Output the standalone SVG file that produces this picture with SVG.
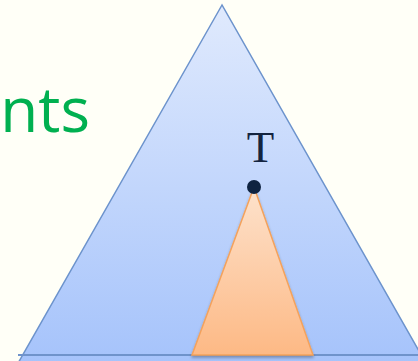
<svg xmlns="http://www.w3.org/2000/svg" width="418" height="361" viewBox="0 0 418 361">
  <defs>
    <linearGradient id="blueG" x1="0" y1="0" x2="0" y2="1">
      <stop offset="0" stop-color="#e0eafd"/>
      <stop offset="1" stop-color="#a4c2fb"/>
    </linearGradient>
    <linearGradient id="orangeG" x1="0" y1="0" x2="0" y2="1">
      <stop offset="0" stop-color="#fde2cc"/>
      <stop offset="1" stop-color="#fdb985"/>
    </linearGradient>
    <filter id="sh" x="-20%" y="-20%" width="140%" height="140%">
      <feGaussianBlur in="SourceAlpha" stdDeviation="1.5"/>
      <feOffset dx="0" dy="2"/>
      <feComponentTransfer><feFuncA type="linear" slope="0.3"/></feComponentTransfer>
      <feMerge><feMergeNode/><feMergeNode in="SourceGraphic"/></feMerge>
    </filter>
  </defs>
  <style>
    .big { fill: url(#blueG); stroke: #6c93cc; stroke-width: 1.5; }
    .sub { fill: url(#orangeG); stroke: #f4a25c; stroke-width: 1.5; }
    .base { stroke: #6f93cb; stroke-width: 2; }
    .lbl { font-family: "Liberation Serif", "DejaVu Serif", serif; fill: #14243f; }
    .green { font-family: "Open Sans", "Noto Sans", sans-serif; fill: #00b050; }
  </style>
  <rect width="418" height="361" fill="#fffff7"/>
  <text class="green" x="90" y="132" font-size="62" text-anchor="end">nts</text>
  <g id="tree">
    <polygon class="big" points="222,5 13,372 431,372"/>
  </g>
  <g id="connectors">
    <line class="base" x1="18" y1="355" x2="418" y2="355"/>
  </g>
  <g id="subtree">
    <polygon class="sub" points="254,187 192,355 313,355" filter="url(#sh)"/>
  </g>
  <g id="node-T">
    <circle cx="254" cy="187" r="7" fill="#0f2340"/>
    <text class="lbl" x="260.5" y="162" font-size="45" text-anchor="middle">T</text>
  </g>
</svg>
